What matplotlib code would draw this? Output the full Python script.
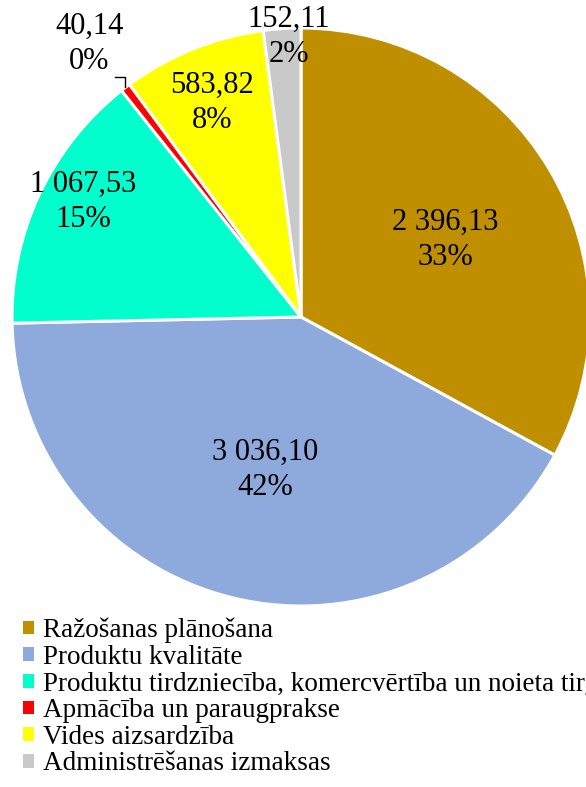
import matplotlib.pyplot as plt
import numpy as np

plt.rcParams['font.family'] = ['Liberation Serif', 'DejaVu Serif']

# data
categories = ['Ražošanas plānošana', 'Produktu kvalitāte',
              'Produktu tirdzniecība, komercvērtība un noieta tirgus',
              'Apmācība un paraugprakse', 'Vides aizsardzība',
              'Administrēšanas izmaksas']
values = [2396.13, 3036.10, 1067.53, 40.14, 583.82, 152.11]
value_labels = ['2 396,13', '3 036,10', '1 067,53', '40,14', '583,82', '152,11']
pct_labels = ['33%', '42%', '15%', '0%', '8%', '2%']
colors = ['#BF8F00', '#8EA9DB', '#00FFCC', '#FF0000', '#FFFF00', '#C9C9C9']

# label placement: distance (fraction of radius) and angle nudge (deg)
lab_r = [0.565, 0.544, 0.853, 1.196, 0.802, 0.97]
lab_da = [-2.6, 0.5, -2.6, 0.4, 0.6, -1.3]

W, H = 586, 787
fig = plt.figure(figsize=(W / 100, H / 100), dpi=100)
ax = fig.add_axes([0, 0, 1, 1])

cx, cy, R = 301, H - 317, 289
wedges, _ = ax.pie(values, colors=colors, startangle=90, counterclock=False,
                   center=(cx, cy), radius=R, frame=True,
                   wedgeprops=dict(edgecolor='white', linewidth=2.2))
ax.set_xlim(0, W)
ax.set_ylim(0, H)
ax.axis('off')

for i, w in enumerate(wedges):
    mid = (w.theta1 + w.theta2) / 2
    ang = np.deg2rad(mid + lab_da[i])
    x = cx + lab_r[i] * R * np.cos(ang)
    y = cy + lab_r[i] * R * np.sin(ang)
    ax.text(x, y, value_labels[i] + '\n' + pct_labels[i], ha='center', va='center',
            fontsize=22, linespacing=1.3, color='black')
    if i == 3:
        # leader line for small slice
        a = np.deg2rad(mid)
        px, py = cx + R * np.cos(a), cy + R * np.sin(a)
        ax.plot([px, px, px - 10], [py, py + 10, py + 10], color='black', lw=1)

leg = fig.legend(wedges, categories, loc='upper left',
                 bbox_to_anchor=(12 / W, 1 - 607 / H), frameon=False,
                 fontsize=19.5, handlelength=0.4, handleheight=0.4,
                 handletextpad=0.35, labelspacing=0.06, borderaxespad=0)
for h in leg.legend_handles:
    h.set_edgecolor('none')

fig.savefig('out.png', dpi=100)
